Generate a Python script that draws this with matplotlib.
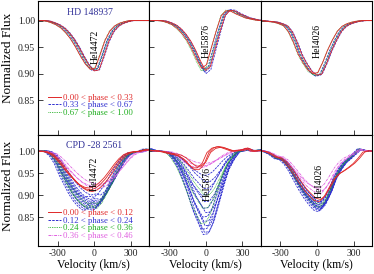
import numpy as np
import matplotlib
matplotlib.use('Agg')
import matplotlib.pyplot as plt
from matplotlib.ticker import FormatStrFormatter
from matplotlib.lines import Line2D

plt.rcParams['font.family'] = ['Liberation Serif', 'DejaVu Serif']
plt.rcParams['axes.unicode_minus'] = False

# velocity grid (km/s) of the profiles
vel = [-460, -420, -380, -340, -300, -260, -220, -180, -140, -100, -60, -20,
       20, 60, 100, 140, 180, 220, 260, 300, 340, 380, 420, 460]

# ---- HD 148937 (top row) ----
hd_4472 = [1.000, 1.000, 0.999, 0.996, 0.992, 0.986, 0.977, 0.965, 0.950, 0.933, 0.918, 0.908,
           0.910, 0.935, 0.962, 0.980, 0.990, 0.995, 0.998, 1.000, 1.000, 1.000, 1.000, 1.000]
hd_5876 = [1.000, 1.000, 1.000, 0.999, 0.996, 0.992, 0.985, 0.975, 0.962, 0.945, 0.925, 0.908,
           0.915, 0.948, 0.980, 1.009, 1.019, 1.018, 1.013, 1.009, 1.005, 1.003, 1.001, 1.000]
hd_4026 = [1.000, 0.999, 0.998, 0.997, 0.994, 0.990, 0.978, 0.958, 0.934, 0.917, 0.903, 0.896,
           0.898, 0.918, 0.942, 0.962, 0.979, 0.989, 0.994, 0.997, 0.999, 1.000, 1.000, 1.000]

# per phase group: velocity shifts and line minima of the individual spectra
hd_shift = {'red': [-14, 18], 'blue': [0, 10, 22], 'green': [-16, 5]}
hd_min_4472 = {'red': [0.908, 0.905], 'blue': [0.906, 0.908, 0.905], 'green': [0.909, 0.907]}
hd_min_5876 = {'red': [0.910, 0.906], 'blue': [0.906, 0.903, 0.900], 'green': [0.905, 0.906]}
hd_min_4026 = {'red': [0.900, 0.897], 'blue': [0.896, 0.895, 0.897], 'green': [0.898, 0.896]}

# ---- CPD -28 2561 (bottom row) ----
cpd_4472 = {
    'blue': [1.000, 1.001, 0.999, 0.991, 0.976, 0.953, 0.934, 0.915, 0.900, 0.889, 0.882, 0.885,
             0.882, 0.893, 0.911, 0.931, 0.953, 0.973, 0.989, 0.996, 0.998, 0.999, 1.004, 1.004],
    'red': [1.000, 1.000, 0.998, 0.993, 0.983, 0.970, 0.955, 0.942, 0.930, 0.920, 0.914, 0.912,
            0.916, 0.925, 0.937, 0.952, 0.968, 0.982, 0.992, 0.997, 0.999, 1.000, 1.003, 1.003],
    'magenta': [1.000, 1.000, 0.998, 0.994, 0.985, 0.973, 0.960, 0.948, 0.937, 0.928, 0.922, 0.919,
                0.918, 0.921, 0.928, 0.938, 0.952, 0.966, 0.980, 0.991, 0.997, 0.999, 1.003, 1.003],
}
cpd_5876 = {
    'blue': [1.006, 1.002, 1.000, 0.999, 0.994, 0.980, 0.960, 0.932, 0.900, 0.864, 0.838, 0.813,
             0.815, 0.840, 0.880, 0.922, 0.958, 0.980, 0.998, 1.002, 1.006, 1.002, 1.002, 1.004],
    'red': [1.002, 1.001, 1.000, 0.998, 0.995, 0.993, 0.990, 0.983, 0.972, 0.962, 0.962, 0.972,
            0.997, 1.007, 1.010, 1.008, 1.004, 1.000, 1.002, 1.003, 1.007, 1.000, 1.001, 1.002],
    'magenta': [1.002, 1.001, 1.000, 0.999, 0.998, 0.994, 0.988, 0.980, 0.972, 0.966, 0.963, 0.962,
                0.965, 0.971, 0.979, 0.987, 0.994, 0.999, 1.002, 1.003, 1.006, 1.000, 1.001, 1.002],
}
cpd_4026 = {
    'blue': [1.001, 0.998, 0.992, 0.984, 0.982, 0.972, 0.956, 0.936, 0.917, 0.900, 0.886, 0.874,
             0.870, 0.882, 0.905, 0.936, 0.957, 0.973, 0.983, 0.994, 1.005, 1.002, 1.000, 1.000],
    'red': [1.001, 0.999, 0.994, 0.987, 0.984, 0.975, 0.961, 0.945, 0.928, 0.912, 0.900, 0.889,
            0.886, 0.896, 0.916, 0.936, 0.948, 0.955, 0.963, 0.972, 0.984, 0.998, 1.001, 1.000],
    'magenta': [1.001, 0.999, 0.994, 0.988, 0.986, 0.978, 0.965, 0.950, 0.935, 0.922, 0.913, 0.906,
                0.903, 0.915, 0.935, 0.956, 0.972, 0.982, 0.989, 0.996, 1.004, 1.002, 1.000, 1.000],
}
cpd_4026['green'] = cpd_4026['blue']
cpd_4472['green'] = cpd_4472['blue']
cpd_5876['green'] = cpd_5876['blue']

cpd_shift_4472 = {'blue': [-30, -20, -10, 0, 5, 10, 15, 20, 25, -25, 30, -5],
                  'green': [-15, 0, 10], 'magenta': [0, 15, 30], 'red': [-10, 5, -20]}
cpd_min_4472 = {'blue': [0.865, 0.868, 0.872, 0.875, 0.878, 0.880, 0.883, 0.886, 0.890, 0.895, 0.900, 0.870],
                'green': [0.874, 0.870, 0.880], 'magenta': [0.920, 0.915, 0.925], 'red': [0.912, 0.908, 0.916]}
cpd_shift_5876 = {'blue': [0, 10, -10, 15, 5, -5, 20, 0, 10, -15, 5, 15, -5],
                  'green': [-20, -5, 10], 'magenta': [-20, 0, 20], 'red': [-10, 5, 20]}
cpd_min_5876 = {'blue': [0.810, 0.815, 0.822, 0.830, 0.840, 0.850, 0.860, 0.870, 0.885, 0.900, 0.915, 0.930, 0.945],
                'green': [0.835, 0.870, 0.900], 'magenta': [0.962, 0.966, 0.972], 'red': [0.962, 0.958, 0.966]}
cpd_shift_4026 = {'blue': [-10, 0, 5, 10, 15, 20, -5, 25, 0, 10, 5, 15],
                  'green': [0, 10], 'magenta': [10, 25, 0], 'red': [-5, 10]}
cpd_min_4026 = {'blue': [0.862, 0.865, 0.868, 0.870, 0.872, 0.875, 0.878, 0.880, 0.883, 0.866, 0.873, 0.885],
                'green': [0.872, 0.878], 'magenta': [0.903, 0.910, 0.915], 'red': [0.885, 0.890]}

colors = {'red': '#e02828', 'blue': '#3030d0', 'green': '#1fae1f', 'magenta': '#e060e0'}
styles = {'red': '-', 'blue': (0, (2.6, 1.2)), 'green': (0, (0.8, 1.0)), 'magenta': (0, (3, 1, 0.8, 1))}

top_labels = ['0.00 < phase < 0.33', '0.33 < phase < 0.67', '0.67 < phase < 1.00']
bot_labels = ['0.00 < phase < 0.12', '0.12 < phase < 0.24', '0.24 < phase < 0.36', '0.36 < phase < 0.46']


def draw_group(ax, template, shifts, minima, key):
    t = np.array(template)
    v = np.array(vel)
    for s, m in zip(shifts, minima):
        flux = 1 - (1 - t) * (1 - m) / (1 - t.min())
        ax.plot(v + s, flux, color=colors[key], ls=styles[key], lw=0.6)


fig = plt.figure(figsize=(3.74, 2.74), dpi=100)
gs = fig.add_gridspec(2, 3, left=38/374, right=372/374, top=1 - 1/274, bottom=1 - 246/274,
                      height_ratios=[134, 111], wspace=0, hspace=0)
axes = [[fig.add_subplot(gs[r, c]) for c in range(3)] for r in range(2)]

top_profiles = [(hd_4472, hd_min_4472), (hd_5876, hd_min_5876), (hd_4026, hd_min_4026)]
for c, (tmpl, mins) in enumerate(top_profiles):
    ax = axes[0][c]
    for key in ['blue', 'green', 'red']:
        draw_group(ax, tmpl, hd_shift[key], mins[key], key)

bot_profiles = [(cpd_4472, cpd_shift_4472, cpd_min_4472),
                (cpd_5876, cpd_shift_5876, cpd_min_5876),
                (cpd_4026, cpd_shift_4026, cpd_min_4026)]
for c, (tmpl, shifts, mins) in enumerate(bot_profiles):
    ax = axes[1][c]
    for key in ['blue', 'green', 'magenta', 'red']:
        draw_group(ax, tmpl[key], shifts[key], mins[key], key)

for r in range(2):
    for c in range(3):
        ax = axes[r][c]
        ax.set_xlim(-462, 450)
        ax.set_ylim(0.784, 1.037)
        ax.set_xticks([-300, 0, 300])
        ax.set_yticks([0.85, 0.90, 0.95, 1.00])
        ax.yaxis.set_major_formatter(FormatStrFormatter('%.2f'))
        ax.tick_params(direction='in', length=3.5, width=0.6, labelsize=7, pad=2,
                       colors='#222222')
        for sp in ax.spines.values():
            sp.set_linewidth(0.8)
        if c > 0:
            ax.set_yticklabels([])
        if r == 0:
            ax.set_xticklabels([])
        else:
            ax.set_xlabel('Velocity (km/s)', fontsize=8.5, labelpad=1)

fig.text(8.5/374, 1 - 58/274, 'Normalized Flux', rotation=90, ha='center', va='center', fontsize=9.5)
fig.text(8.5/374, 1 - 186/274, 'Normalized Flux', rotation=90, ha='center', va='center', fontsize=9.5)

axes[0][0].text(-33, 1.015, 'HD 148937', color='#333399', fontsize=7, ha='center', va='center')
axes[1][0].text(0, 1.012, 'CPD -28 2561', color='#333399', fontsize=7, ha='center', va='center')

line_names = [['HeI4472', 'HeI5876', 'HeI4026'], ['HeI4472', 'HeI5876', 'HeI4026']]
line_pos = [[(8, 0.950), (0, 0.962), (0, 0.962)], [(0, 0.948), (10, 0.925), (20, 0.933)]]
for r in range(2):
    for c in range(3):
        x, y = line_pos[r][c]
        axes[r][c].text(x, y, line_names[r][c], rotation=90, fontsize=7, ha='center', va='center')

h_top = [Line2D([], [], color=colors[k], ls=styles[k], lw=0.7) for k in ['red', 'blue', 'green']]
h_bot = [Line2D([], [], color=colors[k], ls=styles[k], lw=0.7) for k in ['red', 'blue', 'green', 'magenta']]
leg_kw = dict(frameon=False, fontsize=6.3, handlelength=1.5, handletextpad=0.3,
              labelspacing=-0.05, borderpad=0, borderaxespad=0, labelcolor='linecolor',
              loc='upper left')
axes[0][0].legend(h_top, top_labels, bbox_to_anchor=(0.087, 0.31), **leg_kw)
axes[1][0].legend(h_bot, bot_labels, bbox_to_anchor=(0.087, 0.335), **leg_kw)

fig.savefig('out.png', dpi=100)
